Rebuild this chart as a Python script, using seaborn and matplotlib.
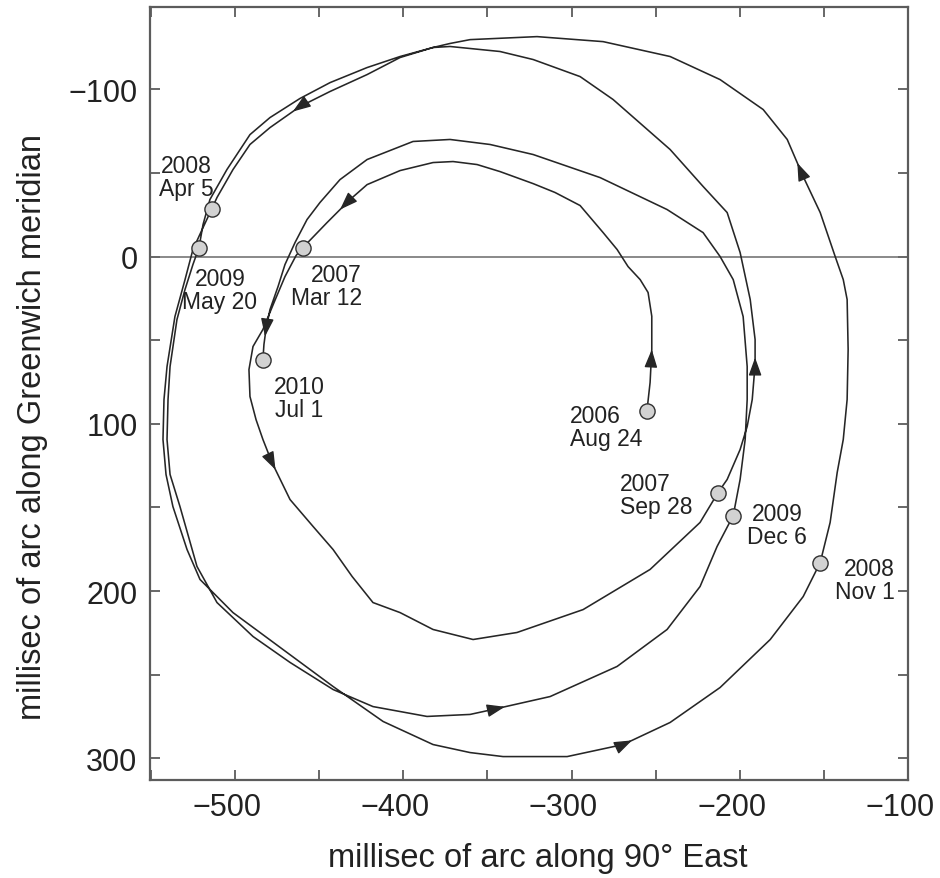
import numpy as np
import pandas as pd
import matplotlib
matplotlib.use("Agg")
import matplotlib.pyplot as plt
from matplotlib.patches import FancyArrowPatch
from matplotlib.ticker import MultipleLocator, FuncFormatter
from matplotlib.transforms import ScaledTranslation
import seaborn as sns

# Dated positions of the rotation pole (milliarcseconds)
date_labels = ["2006\nAug 24", "2007\nMar 12", "2007\nSep 28", "2008\nApr 5",
               "2008\nNov 1", "2009\nMay 20", "2009\nDec 6", "2010\nJul 1"]
date_x = [-255.2, -459.6, -212.9, -513.7, -152.2, -521.4, -203.9, -483.4]
date_y = [92.5, -5.4, 141.1, -28.7, 183.0, -5.4, 154.9, 61.6]

# Track between consecutive dated positions
seg1_x = [-253.3, -252.3, -252.3, -254.5, -259.2, -266.4, -272.9, -281.2, -294.9, -309.8,
          -322.8, -342.5, -356.1, -370.4, -382.3, -401.9, -421.5, -431.6, -445.3]
seg1_y = [75.3, 55.6, 35.7, 21.5, 13.8, 6.0, -4.2, -14.3, -30.5, -38.3,
          -43.6, -50.8, -55.0, -56.8, -56.2, -51.4, -43.0, -34.1, -20.3]

seg2_x = [-463.7, -470.3, -476.8, -483.4, -489.3, -491.7, -491.1, -487.5, -483.4, -478.0,
          -467.3, -453.6, -441.7, -430.4, -418.0, -401.9, -382.3, -358.5, -332.4, -293.1,
          -253.3, -223.6]
seg2_y = [-0.6, 12.0, 27.5, 43.6, 53.8, 67.6, 83.7, 97.5, 109.4, 123.2,
          145.3, 161.4, 175.2, 191.3, 206.9, 212.9, 223.0, 229.0, 224.8, 211.1,
          187.1, 159.0]

seg3_x = [-207.5, -199.8, -195.6, -192.6, -190.9, -190.9, -193.8, -199.8, -207.5, -221.8,
          -241.4, -275.3, -294.9, -322.8, -342.5, -372.2, -382.3, -401.9, -421.5, -443.5,
          -461.4, -479.2, -491.1, -501.2, -510.7]
seg3_y = [133.3, 115.4, 101.6, 85.5, 64.6, 49.6, 25.7, -2.4, -26.3, -41.9,
          -64.0, -93.9, -107.6, -117.8, -122.6, -125.6, -125.0, -119.0, -108.8, -98.7,
          -89.7, -77.1, -67.0, -52.0, -35.3]

seg4_x = [-519.0, -525.0, -529.7, -535.7, -540.4, -542.2, -542.8, -541.0, -536.9, -528.5,
          -520.8, -501.2, -471.5, -441.7, -412.0, -382.3, -360.3, -340.7, -302.6, -269.3,
          -241.4, -211.7, -181.9, -162.3]
seg4_y = [-17.3, -4.2, 13.8, 35.9, 65.8, 85.5, 109.4, 130.3, 149.5, 175.2,
          193.1, 212.9, 235.0, 257.1, 278.0, 291.8, 296.6, 299.0, 299.0, 291.8,
          278.6, 257.7, 229.0, 203.3]

seg5_x = [-146.3, -142.1, -138.5, -136.2, -135.6, -136.2, -138.5, -143.3, -152.2, -162.3,
          -171.8, -186.1, -211.7, -241.4, -281.2, -320.5, -360.3, -372.2, -382.3, -401.9,
          -421.5, -443.5, -461.4, -479.2, -491.1, -504.8, -514.9, -519.0]
seg5_y = [159.0, 129.1, 109.4, 85.5, 55.6, 25.7, 13.8, 0.0, -26.3, -47.8,
          -70.0, -87.9, -105.8, -119.6, -128.5, -131.5, -129.7, -127.4, -125.0, -119.6,
          -113.0, -104.0, -94.5, -83.1, -72.9, -52.0, -34.1, -19.1]

seg6_x = [-525.0, -529.7, -534.5, -538.6, -539.8, -540.4, -538.6, -532.7, -522.6, -510.7,
          -489.3, -467.3, -441.7, -418.0, -385.9, -360.3, -346.6, -312.7, -272.9, -243.2,
          -223.6, -213.5]
seg6_y = [4.8, 19.7, 37.7, 65.8, 85.5, 109.4, 130.3, 149.5, 185.3, 206.9,
          227.2, 242.7, 258.9, 269.1, 275.0, 273.8, 270.8, 263.1, 245.1, 223.0,
          197.3, 173.4]

seg7_x = [-199.8, -196.8, -195.6, -195.6, -198.0, -203.9, -211.7, -221.8, -243.2, -283.0,
          -322.8, -348.4, -372.2, -394.2, -421.5, -437.6, -449.5, -457.2, -464.3, -470.3,
          -474.4, -479.2, -481.6, -482.8]
seg7_y = [133.3, 109.4, 85.5, 65.8, 35.9, 13.8, 0.0, -14.3, -28.1, -47.2,
          -61.0, -67.0, -70.0, -68.8, -58.0, -46.0, -32.3, -22.1, -8.4, 4.8,
          17.9, 31.7, 43.6, 52.6]

segments_x = [seg1_x, seg2_x, seg3_x, seg4_x, seg5_x, seg6_x, seg7_x]
segments_y = [seg1_y, seg2_y, seg3_y, seg4_y, seg5_y, seg6_y, seg7_y]

# Direction arrows: (segment index, approximate tip x, approximate tip y)
arrow_seg = [0, 0, 1, 2, 2, 3, 4, 5, 6]
arrow_x = [-252.0, -435.8, -478.0, -190.9, -467.3, -263.4, -165.3, -339.5, -482.2]
arrow_y = [55.6, -26.3, 128.5, 60.4, -89.1, 290.6, -56.2, 269.7, 47.8]

# Build the continuous track: dated point, segment, next dated point, ...
rows = []
seg_pts = []
order = 0
for i in range(len(segments_x)):
    xs = [date_x[i]] + segments_x[i] + [date_x[i + 1]]
    ys = [date_y[i]] + segments_y[i] + [date_y[i + 1]]
    seg_pts.append(np.column_stack([xs, ys]))
    start = 0 if i == 0 else 1
    for x, y in zip(xs[start:], ys[start:]):
        rows.append((order, x, y))
        order += 1
track = pd.DataFrame(rows, columns=["order", "x", "y"])
dates = pd.DataFrame({"x": date_x, "y": date_y, "label": date_labels})

sns.set_theme(style="ticks")
plt.rcParams["font.family"] = ["Liberation Sans", "DejaVu Sans"]

fig = plt.figure(figsize=(9.4, 8.79), dpi=100)
ax = fig.add_axes([0.1596, 0.1115, 0.8064, 0.879])

ink = "#262626"
frame = "#5c5c5c"

ax.axhline(0, color="#6a6a6a", lw=1.1, zorder=1)

sns.lineplot(data=track, x="x", y="y", sort=False, estimator=None,
             color=ink, lw=1.15, ax=ax, zorder=2)

# Arrowheads placed on the track, pointing along the direction of travel
for s, ax_, ay_ in zip(arrow_seg, arrow_x, arrow_y):
    pts = seg_pts[s]
    p = np.array([ax_, ay_])
    best = None
    for k in range(len(pts) - 1):
        a, b = pts[k], pts[k + 1]
        d = b - a
        t = np.clip(np.dot(p - a, d) / np.dot(d, d), 0, 1)
        q = a + t * d
        dist = np.linalg.norm(p - q)
        if best is None or dist < best[0]:
            best = (dist, q, d / np.linalg.norm(d))
    _, tip, u = best
    tail = tip - u * 9.0
    ax.add_patch(FancyArrowPatch(tail, tip, arrowstyle="-|>,head_length=1.0,head_width=0.36",
                                 mutation_scale=11, color=ink, lw=1.0,
                                 shrinkA=0, shrinkB=0, zorder=3))

sns.scatterplot(data=dates, x="x", y="y", s=120, color="#d2d2d2",
                edgecolor="#303030", linewidth=1.0, ax=ax, zorder=4, legend=False)

# Date labels
label_offsets = [(-77, 7, "left"), (59, -15, "right"), (-98, 21, "left"), (-26, 55, "center"),
                 (75, 6, "right"), (21, -19, "center"), (44, 14, "center"), (36, -15, "center")]
for (x, y, lab), (dx, dy, ha) in zip(zip(date_x, date_y, date_labels), label_offsets):
    ax.annotate(lab, (x, y), xytext=(dx, dy), textcoords="offset pixels",
                ha=ha, va="top", fontsize=16.5, color="#222222", linespacing=1.0)

ax.set_xlim(-550.5, -100)
ax.set_ylim(313, -149)

ax.xaxis.set_major_locator(MultipleLocator(100))
ax.xaxis.set_minor_locator(MultipleLocator(50))
ax.yaxis.set_major_locator(MultipleLocator(100))
ax.yaxis.set_minor_locator(MultipleLocator(50))
fmt = FuncFormatter(lambda v, pos: ("\u2212" if v < 0 else "") + f"{abs(int(round(v)))}")
ax.xaxis.set_major_formatter(fmt)
ax.yaxis.set_major_formatter(fmt)

for which in ("major", "minor"):
    ax.tick_params(axis="both", which=which, direction="in", length=7, width=1.3,
                   color=frame, top=True, right=True)
ax.tick_params(axis="both", which="major", labelsize=22, pad=9, labelcolor="#222222")

for sp in ax.spines.values():
    sp.set_color(frame)
    sp.set_linewidth(1.6)

ax.set_xlabel("millisec of arc along 90\u00b0 East", fontsize=23.5, color="#222222")
ax.set_ylabel("millisec of arc along Greenwich meridian", fontsize=23.5, color="#222222")
ax.xaxis.set_label_coords(0.512, -0.080)
ax.yaxis.set_label_coords(-0.1346, 0.458)

# x tick labels sit slightly left of their ticks
shift = ScaledTranslation(-8 / 100, 0, fig.dpi_scale_trans)
for tick in ax.xaxis.get_major_ticks():
    tick.label1.set_transform(tick.label1.get_transform() + shift)

fig.savefig("out.png", dpi=100, facecolor="white")
